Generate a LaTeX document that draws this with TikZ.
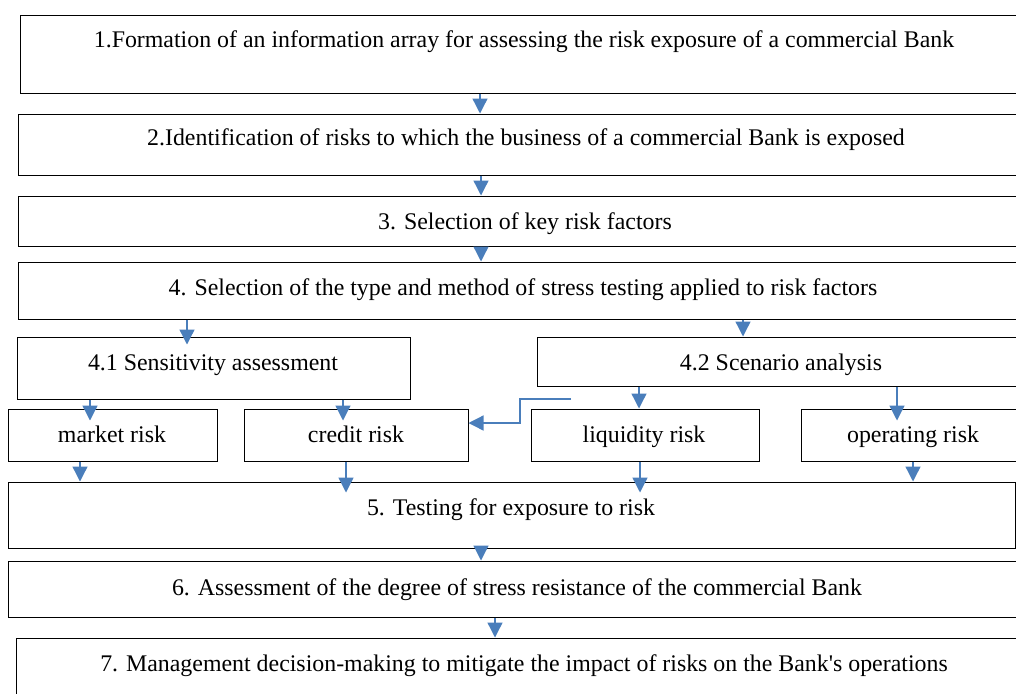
\documentclass[tikz,border=0pt]{standalone}
\usepackage{fontspec}
\setmainfont{Liberation Serif}[Ligatures=TeXOff]
\usetikzlibrary{arrows.meta,fit,calc}
\definecolor{arrblue}{HTML}{4A7EBB}
\begin{document}
\begin{tikzpicture}[x=0.75pt,y=-0.75pt,
  box/.style={draw=black, line width=0.75pt, inner sep=0pt},
  lbl/.style={inner sep=0pt, anchor=base, font=\fontsize{17.9}{20}\selectfont},
  arr/.style={draw=arrblue, line width=1pt, -{Triangle[width=11.25pt,length=11.25pt]}}]
\useasboundingbox (0,0) rectangle (1016,693);
\clip (0,0) rectangle (1016,693);
% boxes
\node[box, fit={(20,15) (1030,93)}] (b1) {};
\node[box, fit={(18,114) (1030,175)}] (b2) {};
\node[box, fit={(18,196) (1030,246)}] (b3) {};
\node[box, fit={(18,262) (1030,319)}] (b4) {};
\node[box, fit={(17,337) (410,399)}] (b41) {};
\node[box, fit={(537,337) (1030,386)}] (b42) {};
\node[box, fit={(8,409) (217,461)}] (mr) {};
\node[box, fit={(244,409) (468,461)}] (cr) {};
\node[box, fit={(531,409) (759,461)}] (lr) {};
\node[box, fit={(801,409) (1030,461)}] (or) {};
\node[box, fit={(8,482) (1015,548)}] (b5) {};
\node[box, fit={(8,561) (1030,617)}] (b6) {};
\node[box, fit={(16,638) (1030,710)}] (b7) {};
% texts
\node[lbl] (t1) at (524,47) {1.Formation of an information array for assessing the risk exposure of a commercial Bank};
\node[lbl] (t2) at (526,145) {2.Identification of risks to which the business of a commercial Bank is exposed};
\node[lbl] (t3) at (525,229) {3. Selection of key risk factors};
\node[lbl] (t4) at (523,295) {4. Selection of the type and method of stress testing applied to risk factors};
\node[lbl] (t41) at (213,370) {4.1 Sensitivity assessment};
\node[lbl] (t42) at (781,370) {4.2 Scenario analysis};
\node[lbl] (tmr) at (112,442) {market risk};
\node[lbl] (tcr) at (356,442) {credit risk};
\node[lbl] (tlr) at (644,442) {liquidity risk};
\node[lbl] (tor) at (913,442) {operating risk};
\node[lbl] (t5) at (511,515) {5. Testing for exposure to risk};
\node[lbl] (t6) at (517,595) {6. Assessment of the degree of stress resistance of the commercial Bank};
\node[lbl] (t7) at (524,671) {7. Management decision-making to mitigate the impact of risks on the Bank's operations};
% arrows
\draw[arr] (b1.south -| 480,0) -- (b2.north -| 480,0);
\draw[arr] (b2.south -| 481,0) -- (b3.north -| 481,0);
\draw[arr] (b3.south -| 481,0) -- (b4.north -| 481,0);
\draw[arr] (b4.south -| 187,0) -- ($(b41.north -| 187,0)+(0,8)$);
\draw[arr] (b4.south -| 743,0) -- (b42.north -| 743,0);
\draw[arr] (b41.south -| 90,0) -- ($(mr.north -| 90,0)+(0,12)$);
\draw[arr] (b41.south -| 343,0) -- ($(cr.north -| 343,0)+(0,12)$);
\draw[arr] (b42.south -| 639,0) -- (lr.north -| 639,0);
\draw[arr] (b42.south -| 897,0) -- ($(or.north -| 897,0)+(0,12)$);
\coordinate (e0) at (571,399);
\coordinate (e1) at (520,399);
\draw[arr] (e0) -- (e1) |- (cr.east |- 0,423);
\draw[arr] (mr.south -| 80,0) -- (b5.north -| 80,0);
\draw[arr] (cr.south -| 346,0) -- ($(b5.north -| 346,0)+(0,11)$);
\draw[arr] (lr.south -| 640,0) -- ($(b5.north -| 640,0)+(0,11)$);
\draw[arr] (or.south -| 913,0) -- (b5.north -| 913,0);
\draw[arr] (b5.south -| 481,0) -- (b6.north -| 481,0);
\draw[arr] (b6.south -| 495,0) -- (b7.north -| 495,0);
\end{tikzpicture}
\end{document}
